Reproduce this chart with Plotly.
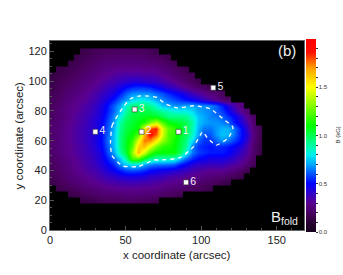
import plotly.graph_objects as go

# Cell centres (arcsec) and field strength in hundredths of kG.
x_cells = [2 + 4 * i for i in range(35)]
y_cells = [120, 116, 112, 108, 104, 100, 96, 92, 88, 84, 80, 76, 72, 68, 64, 60, 56, 52, 48, 44, 40, 36, 32, 28, 24, 20]
b_rows = [
    [0,0,0,0,0,15,16,18,19,19,20,20,20,20,19,19,18,16],
    [0,0,0,0,15,18,19,20,21,23,23,23,24,23,23,23,21,20,19,16],
    [0,0,0,15,18,19,20,23,24,25,25,26,26,26,26,25,25,24,23,20,18],
    [0,15,16,18,19,21,23,24,26,28,29,30,30,30,30,29,29,28,26,24,21,19,16],
    [14,16,18,19,21,23,25,26,29,30,33,34,35,35,35,34,34,33,30,28,25,23,20,18],
    [15,18,19,21,23,25,26,29,31,34,36,39,41,43,43,41,40,39,36,33,30,26,23,20,16],
    [16,19,21,23,25,26,29,31,34,38,41,46,51,55,56,56,54,50,46,41,38,34,30,26,23,20,16],
    [18,20,23,25,26,29,31,34,38,41,46,53,62,67,68,68,67,63,60,55,51,48,43,38,34,30,26,23,19],
    [19,21,24,26,29,30,33,36,40,45,53,62,68,76,80,80,76,70,66,62,59,55,51,48,44,39,34,29,24,19],
    [20,23,25,28,30,33,35,39,44,51,62,70,86,94,96,96,92,84,74,70,68,68,70,70,68,67,66,62,53,43,34,26],
    [21,24,26,29,31,34,36,40,45,53,63,74,90,100,102,102,100,96,92,88,84,82,82,78,70,68,66,62,58,50,41,31,23],
    [21,24,26,29,33,35,38,41,46,55,67,82,96,102,104,106,108,106,100,94,94,94,92,84,74,70,66,64,62,56,50,40,30,20],
    [23,25,28,30,33,35,39,43,48,58,70,90,100,104,108,114,128,140,124,110,106,104,100,90,74,70,68,68,66,62,53,44,35,23],
    [23,25,28,31,34,36,39,43,49,60,72,92,102,106,110,150,180,186,146,125,118,108,100,88,72,64,64,68,72,72,64,52,40,25,18],
    [23,25,29,31,34,36,40,44,50,61,74,94,104,110,123,165,190,178,146,122,116,106,98,86,70,60,60,68,74,72,64,52,43,28,18],
    [23,25,29,31,34,36,40,44,50,62,74,94,106,117,145,175,172,154,134,122,112,104,94,78,62,56,56,62,68,64,58,50,40,25,18],
    [23,25,28,30,33,35,39,43,49,60,74,94,106,123,160,164,146,128,116,114,110,102,92,66,56,54,52,54,54,52,48,43,35,23,16],
    [23,25,28,30,33,35,38,41,46,58,70,90,104,132,165,143,121,110,110,110,110,100,82,65,58,55,53,53,53,50,45,38,33,23,16],
    [21,24,26,29,31,34,36,40,45,53,63,74,92,121,123,106,94,88,88,88,86,74,63,55,50,48,45,45,45,43,39,34,29,20],
    [20,23,25,28,30,33,35,38,43,48,55,67,74,78,76,70,65,63,63,62,60,53,48,43,40,39,38,38,38,35,33,29,24,18],
    [19,21,24,26,29,31,34,35,39,43,48,53,58,59,58,55,50,48,46,45,43,40,38,35,33,31,30,30,30,28,25,21,16],
    [18,20,23,25,26,29,31,33,35,38,40,43,44,45,44,43,40,39,38,35,34,33,30,29,28,26,25,24,23,20,18,15],
    [16,19,20,23,24,26,28,29,31,33,34,35,36,36,36,35,34,33,31,30,29,28,26,25,23,21,20,19,16,14],
    [0,15,18,19,21,23,24,25,26,28,29,30,30,30,30,29,29,28,26,25,24,23,21,20,19,18,15],
    [0,0,0,15,16,19,20,21,23,23,24,24,25,25,25,24,24,23,21,20,19,16],
    [0,0,0,0,0,14,15,16,18,19,19,19,20,20,19,19,18,16],
]

contour_x = [40, 41, 43, 48, 53, 58.6, 65, 71, 76, 84, 95, 106, 114, 121, 118, 110, 104, 101, 95, 86, 73, 68.6, 58, 48, 41, 40]
contour_y = [58.7, 70, 74, 82, 88, 90, 90, 89, 85, 82, 83.5, 81.5, 75, 69, 62, 57, 62, 66, 56, 48.6, 47, 47, 42.6, 43, 50, 58.7]

point_x = [85, 60.6, 56, 30, 108, 90]
point_y = [66, 66, 81, 66, 95.6, 32]
point_names = ["1", "2", "3", "4", "5", "6"]

cbar_ticks = [i / 10 for i in range(0, 20)]
cbar_labels = ["0.0", " ", " ", " ", " ", "0.5", " ", " ", " ", " ", "1.0", " ", " ", " ", " ", "1.5", " ", " ", " ", " "]

scale = [
    [0.0, "#14001c"], [0.05, "#2a0034"], [0.10, "#4a0060"], [0.15, "#5a0090"],
    [0.20, "#3000c8"], [0.25, "#0000ff"], [0.30, "#0050ff"], [0.35, "#00a8ff"],
    [0.40, "#00f0f0"], [0.45, "#00ffa0"], [0.50, "#00ff50"], [0.55, "#00ff00"],
    [0.75, "#ffff00"], [0.85, "#ffa000"], [0.93, "#ff1000"], [1.0, "#ff0000"],
]

z = [[(v / 100 if v else None) for v in row] + [None] * (len(x_cells) - len(row)) for row in b_rows]

fig = go.Figure()
fig.add_trace(go.Heatmap(
    x=x_cells, y=y_cells, z=z, colorscale=scale, zmin=0, zmax=2, hoverinfo="skip",
    zsmooth="best",
    colorbar=dict(
        x=1.008, xanchor="left", xpad=0, y=0.5, yanchor="middle", ypad=0,
        thickness=10, thicknessmode="pixels", len=193, lenmode="pixels",
        outlinewidth=0, tickmode="array", tickvals=cbar_ticks, ticktext=cbar_labels,
        ticks="outside", ticklen=2, tickwidth=0.7, tickcolor="#333",
        tickfont=dict(size=6, color="#333", family="Liberation Sans"),
    ),
))
fig.add_trace(go.Scatter(
    x=contour_x, y=contour_y, mode="lines", hoverinfo="skip",
    line=dict(color="white", width=1.3, dash="4px,4px", shape="spline", smoothing=0.5),
))
fig.add_trace(go.Scatter(
    x=point_x, y=point_y, mode="markers+text", text=point_names, textposition="middle right",
    textfont=dict(size=10.5, color="#f2eef8", family="Liberation Sans"),
    marker=dict(symbol="square", size=5, color="white", line=dict(color="#333", width=0.6)),
    hoverinfo="skip",
))
fig.add_annotation(x=0.935, y=0.99, xref="paper", yref="paper", yshift=3, text="(b)", showarrow=False,
                   xanchor="center", yanchor="top", font=dict(size=15, color="#eeeeee", family="Liberation Sans"))
fig.add_annotation(x=0.985, y=0.0, xref="paper", yref="paper", yshift=1, text="B<sub>fold</sub>", showarrow=False,
                   xanchor="right", yanchor="bottom", font=dict(size=15, color="#eeeeee", family="Liberation Sans"))
title_font = dict(size=11.5, color="#222", family="Liberation Sans")
fig.add_annotation(x=0.5, y=0, xref="paper", yref="paper", yshift=-25, text="x coordinate (arcsec)", showarrow=False,
                   xanchor="center", yanchor="middle", font=title_font)
fig.add_annotation(x=0, y=0.5, xref="paper", yref="paper", xshift=-32, text="y coordinate (arcsec)", showarrow=False,
                   textangle=-90, xanchor="center", yanchor="middle", font=title_font)
fig.add_annotation(x=1, y=0.5, xref="paper", yref="paper", xshift=33, text="B (kG)", showarrow=False,
                   textangle=-90, xanchor="center", yanchor="middle", font=dict(size=6, color="#333", family="Liberation Sans"))

axis_font = dict(size=11, color="#222", family="Liberation Sans")
fig.update_layout(
    width=343, height=275, showlegend=False, paper_bgcolor="white", plot_bgcolor="black",
    margin=dict(l=50, r=39, t=41, b=44.5, autoexpand=False),
    font=dict(family="Liberation Sans"),
    xaxis=dict(range=[0, 168], tick0=0, dtick=50, ticks="inside", ticklen=4, tickcolor="#555", automargin=False,
               showgrid=False, zeroline=False, showline=True, linecolor="#666", linewidth=1, mirror=True,
               minor=dict(dtick=10, ticks="inside", ticklen=2, tickcolor="#555", showgrid=False),
               tickfont=axis_font),
    yaxis=dict(range=[0, 127], tick0=0, dtick=20, ticks="inside", ticklen=4, tickcolor="#555", automargin=False,
               showgrid=False, zeroline=False, showline=True, linecolor="#666", linewidth=1, mirror=True,
               minor=dict(dtick=5, ticks="inside", ticklen=2, tickcolor="#555", showgrid=False),
               tickfont=axis_font),
)
fig.write_html("out.html", config={"displayModeBar": False}, post_script="document.body.style.margin='0';")
